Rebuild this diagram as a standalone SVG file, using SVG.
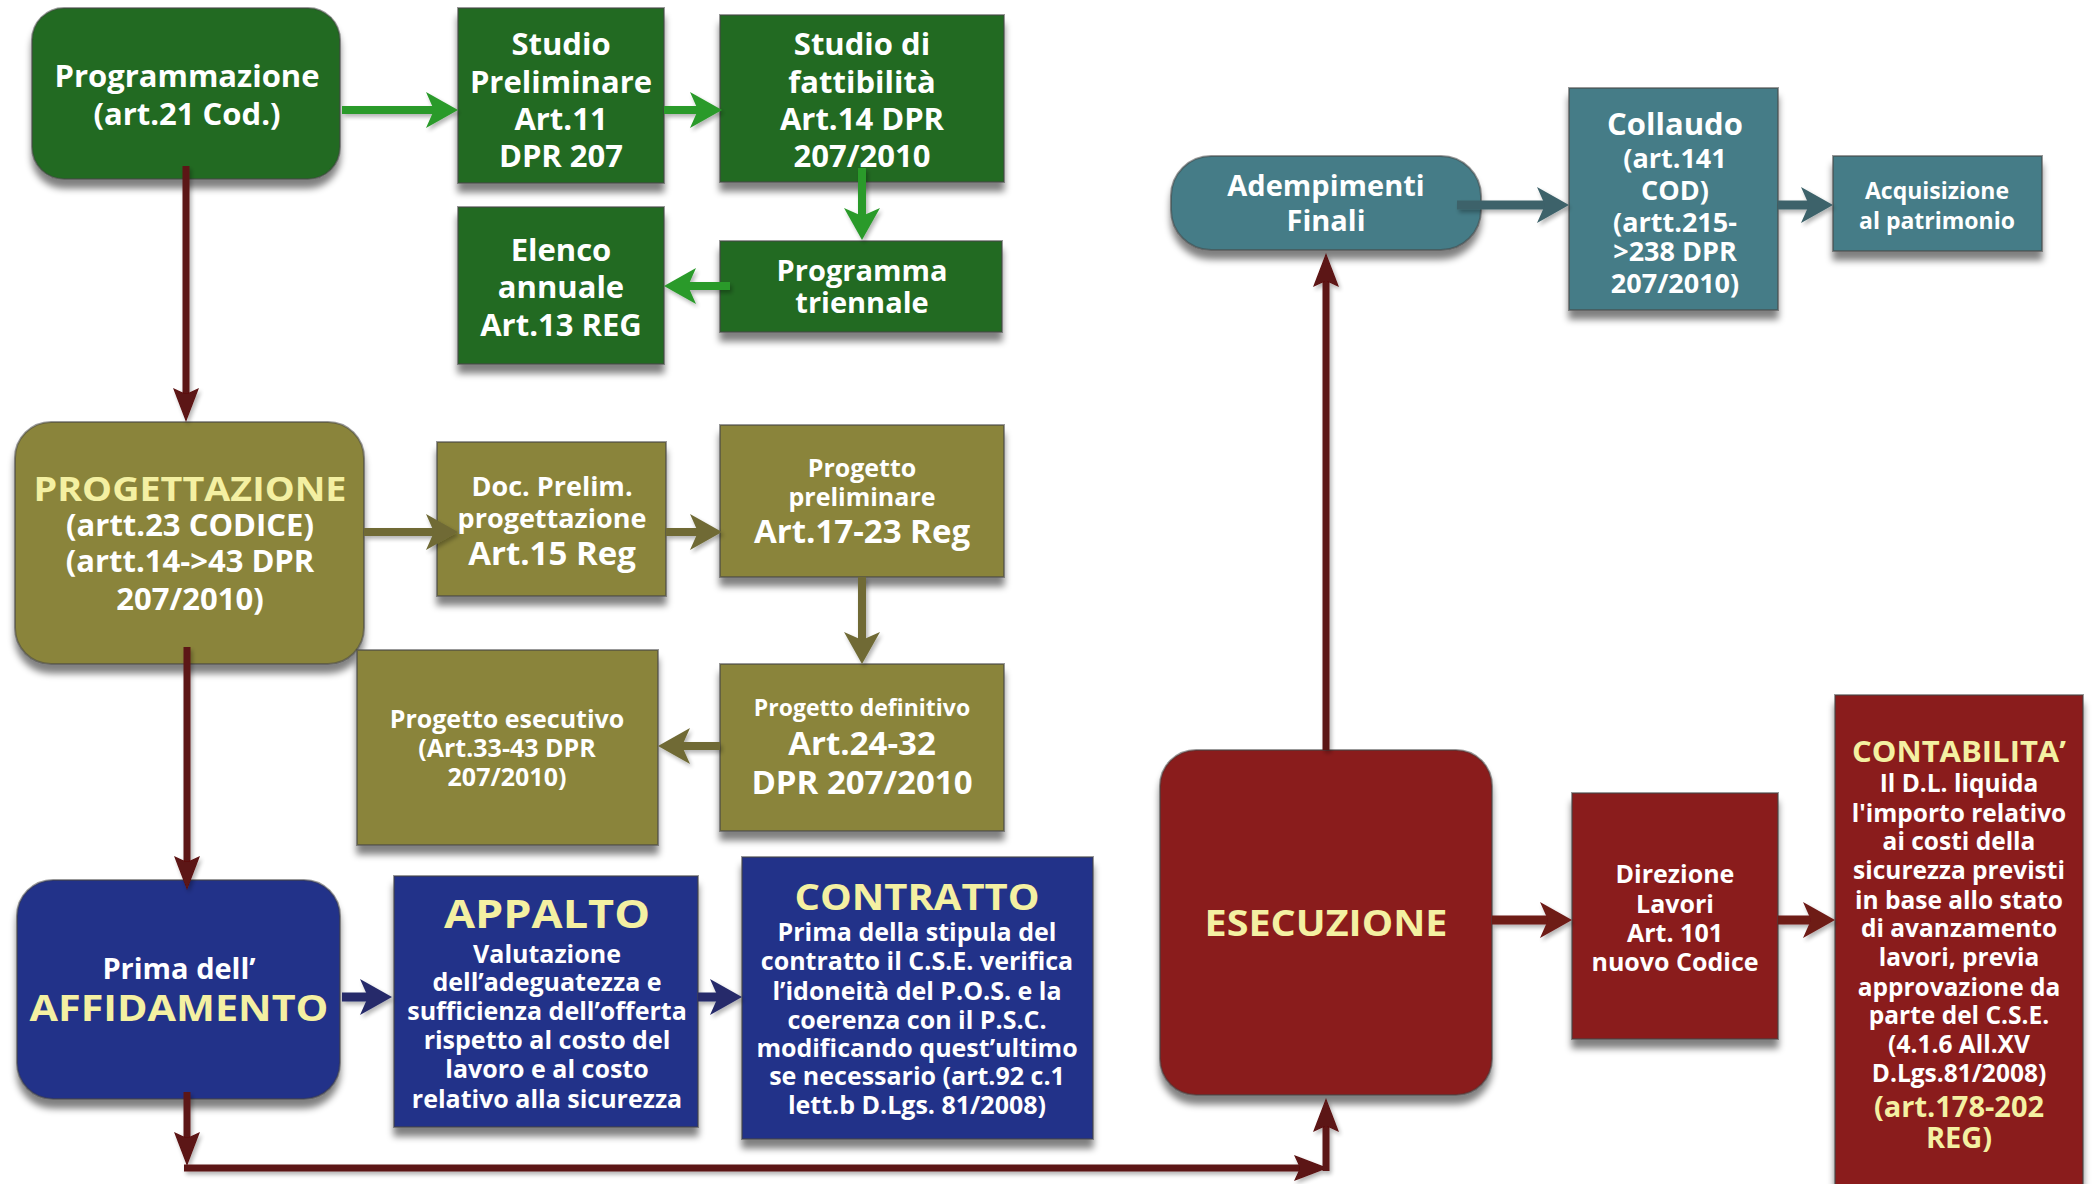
<svg xmlns="http://www.w3.org/2000/svg" width="2096" height="1184" viewBox="0 0 2096 1184">
  <style>
    text { font-family: "Open Sans", "Liberation Sans", sans-serif; font-weight: 700; fill: #ffffff; text-anchor: middle; }
    .hl { fill: #f4f0a2; }
    .box { stroke: rgba(70,70,70,0.55); stroke-width: 2; filter: url(#shadow); }
    .green { fill: #206b20; }
    .olive { fill: #8a843b; }
    .blue { fill: #213089; }
    .red { fill: #8a1b1a; }
    .teal { fill: #447c87; }
    .conn { fill: none; stroke-linecap: butt; }
    .c-green { stroke: #2a9a2a; stroke-width: 8; }
    .c-olive { stroke: #6f6b36; stroke-width: 8; }
    .c-blue { stroke: #272b6a; stroke-width: 9; }
    .c-red { stroke: #6e1a17; stroke-width: 9; }
    .c-teal { stroke: #3d626a; stroke-width: 9; }
    .c-dark { stroke: #5c1212; stroke-width: 7; }
  </style>
  <defs>
    <filter id="shadow" x="-10%" y="-10%" width="120%" height="130%">
      <feGaussianBlur in="SourceAlpha" stdDeviation="3.5"/>
      <feOffset dx="0" dy="9" result="off"/>
      <feComponentTransfer><feFuncA type="linear" slope="0.5"/></feComponentTransfer>
      <feMerge><feMergeNode/><feMergeNode in="SourceGraphic"/></feMerge>
    </filter>
    <filter id="lineShadow" x="-10%" y="-10%" width="120%" height="120%">
      <feGaussianBlur in="SourceAlpha" stdDeviation="2"/>
      <feOffset dx="2" dy="3"/>
      <feComponentTransfer><feFuncA type="linear" slope="0.3"/></feComponentTransfer>
      <feMerge><feMergeNode/><feMergeNode in="SourceGraphic"/></feMerge>
    </filter>
    <marker id="ah-green" markerUnits="userSpaceOnUse" markerWidth="32" markerHeight="36" refX="8" refY="18" orient="auto"><path d="M0,0 L32,18 L0,36 L8,18 z" fill="#2a9a2a"/></marker>
    <marker id="ah-olive" markerUnits="userSpaceOnUse" markerWidth="32" markerHeight="36" refX="8" refY="18" orient="auto"><path d="M0,0 L32,18 L0,36 L8,18 z" fill="#6f6b36"/></marker>
    <marker id="ah-blue" markerUnits="userSpaceOnUse" markerWidth="32" markerHeight="36" refX="8" refY="18" orient="auto"><path d="M0,0 L32,18 L0,36 L8,18 z" fill="#272b6a"/></marker>
    <marker id="ah-red" markerUnits="userSpaceOnUse" markerWidth="32" markerHeight="36" refX="8" refY="18" orient="auto"><path d="M0,0 L32,18 L0,36 L8,18 z" fill="#6e1a17"/></marker>
    <marker id="ah-teal" markerUnits="userSpaceOnUse" markerWidth="32" markerHeight="36" refX="8" refY="18" orient="auto"><path d="M0,0 L32,18 L0,36 L8,18 z" fill="#3d626a"/></marker>
    <marker id="ah-dark" markerUnits="userSpaceOnUse" markerWidth="34" markerHeight="26" refX="6" refY="13" orient="auto"><path d="M0,0 L34,13 L0,26 L6,13 z" fill="#5c1212"/></marker>
  </defs>

  <rect width="2096" height="1184" fill="#ffffff"/>

  <!-- Programmazione phase -->
  <g id="programmazione">
    <rect class="box green" x="32" y="8" width="308" height="171" rx="32"/>
    <text font-size="31" x="187" y="87">Programmazione</text>
    <text font-size="31" x="187" y="125">(art.21 Cod.)</text>
  </g>
  <g id="studio-preliminare">
    <rect class="box green" x="458" y="8" width="206" height="175"/>
    <text font-size="31"><tspan x="561" y="55">Studio</tspan><tspan x="561" y="93">Preliminare</tspan><tspan x="561" y="130">Art.11</tspan><tspan x="561" y="167">DPR 207</tspan></text>
  </g>
  <g id="studio-fattibilita">
    <rect class="box green" x="720" y="15" width="284" height="167"/>
    <text font-size="31"><tspan x="862" y="55">Studio di</tspan><tspan x="862" y="93">fattibilità</tspan><tspan x="862" y="130">Art.14 DPR</tspan><tspan x="862" y="167">207/2010</tspan></text>
  </g>
  <g id="elenco-annuale">
    <rect class="box green" x="458" y="207" width="206" height="157"/>
    <text font-size="31"><tspan x="561" y="261">Elenco</tspan><tspan x="561" y="298">annuale</tspan><tspan x="561" y="336">Art.13 REG</tspan></text>
  </g>
  <g id="programma-triennale">
    <rect class="box green" x="720" y="241" width="282" height="91"/>
    <text font-size="29"><tspan x="862" y="281">Programma</tspan><tspan x="862" y="313">triennale</tspan></text>
  </g>

  <!-- Progettazione phase -->
  <g id="progettazione">
    <rect class="box olive" x="15" y="422" width="349" height="242" rx="36"/>
    <text class="hl" font-size="34" x="190" y="501" textLength="313" lengthAdjust="spacingAndGlyphs">PROGETTAZIONE</text>
    <text font-size="31"><tspan x="190" y="536">(artt.23 CODICE)</tspan><tspan x="190" y="572">(artt.14-&gt;43 DPR</tspan><tspan x="190" y="610">207/2010)</tspan></text>
  </g>
  <g id="doc-prelim">
    <rect class="box olive" x="437" y="442" width="229" height="154"/>
    <text font-size="27"><tspan x="552" y="496">Doc.  Prelim.</tspan><tspan x="552" y="528">progettazione</tspan></text>
    <text font-size="33" x="552" y="565">Art.15 Reg</text>
  </g>
  <g id="progetto-preliminare">
    <rect class="box olive" x="720" y="425" width="284" height="152"/>
    <text font-size="25"><tspan x="862" y="477">Progetto</tspan><tspan x="862" y="506">preliminare</tspan></text>
    <text font-size="33" x="862" y="543">Art.17-23 Reg</text>
  </g>
  <g id="progetto-definitivo">
    <rect class="box olive" x="720" y="664" width="284" height="167"/>
    <text font-size="23" x="862" y="716">Progetto definitivo</text>
    <text font-size="33"><tspan x="862" y="755">Art.24-32</tspan><tspan x="862" y="794">DPR 207/2010</tspan></text>
  </g>
  <g id="progetto-esecutivo">
    <rect class="box olive" x="357" y="650" width="301" height="195"/>
    <text font-size="25"><tspan x="507" y="728">Progetto esecutivo</tspan><tspan x="507" y="757">(Art.33-43 DPR</tspan><tspan x="507" y="786">207/2010)</tspan></text>
  </g>

  <!-- Affidamento phase -->
  <g id="affidamento">
    <rect class="box blue" x="17" y="880" width="323" height="219" rx="36"/>
    <text font-size="29" x="179" y="979">Prima dell’</text>
    <text class="hl" font-size="35" x="179" y="1021" textLength="299" lengthAdjust="spacingAndGlyphs">AFFIDAMENTO</text>
  </g>
  <g id="appalto">
    <rect class="box blue" x="394" y="876" width="304" height="251"/>
    <text class="hl" font-size="40" x="547" y="928" textLength="206" lengthAdjust="spacingAndGlyphs">APPALTO</text>
    <text font-size="25"><tspan x="547" y="963">Valutazione</tspan><tspan x="547" y="991">dell’adeguatezza e</tspan><tspan x="547" y="1020">sufficienza dell’offerta</tspan><tspan x="547" y="1049">rispetto al costo del</tspan><tspan x="547" y="1078">lavoro e al costo</tspan><tspan x="547" y="1108">relativo alla sicurezza</tspan></text>
  </g>
  <g id="contratto">
    <rect class="box blue" x="742" y="857" width="351" height="282"/>
    <text class="hl" font-size="35" x="917" y="910" textLength="245" lengthAdjust="spacingAndGlyphs">CONTRATTO</text>
    <text font-size="25"><tspan x="917" y="941">Prima della stipula del</tspan><tspan x="917" y="970">contratto il C.S.E. verifica</tspan><tspan x="917" y="1000">l’idoneità del P.O.S. e la</tspan><tspan x="917" y="1029">coerenza con il P.S.C.</tspan><tspan x="917" y="1057">modificando quest’ultimo</tspan><tspan x="917" y="1085">se necessario (art.92 c.1</tspan><tspan x="917" y="1114">lett.b D.Lgs. 81/2008)</tspan></text>
  </g>

  <!-- Esecuzione phase -->
  <g id="esecuzione">
    <rect class="box red" x="1160" y="750" width="332" height="345" rx="36"/>
    <text class="hl" font-size="35" x="1326" y="936" textLength="243" lengthAdjust="spacingAndGlyphs">ESECUZIONE</text>
  </g>
  <g id="direzione-lavori">
    <rect class="box red" x="1572" y="793" width="206" height="246"/>
    <text font-size="25"><tspan x="1675" y="883">Direzione</tspan><tspan x="1675" y="913">Lavori</tspan><tspan x="1675" y="942">Art. 101</tspan><tspan x="1675" y="971">nuovo Codice</tspan></text>
  </g>
  <g id="contabilita">
    <rect class="box red" x="1835" y="695" width="248" height="500"/>
    <text class="hl" font-size="28" x="1959" y="762" textLength="214" lengthAdjust="spacingAndGlyphs">CONTABILITA’</text>
    <text font-size="24.5"><tspan x="1959" y="792">Il D.L. liquida</tspan><tspan x="1959" y="822">l'importo relativo</tspan><tspan x="1959" y="850">ai costi della</tspan><tspan x="1959" y="879">sicurezza previsti</tspan><tspan x="1959" y="909">in base allo stato</tspan><tspan x="1959" y="937">di avanzamento</tspan><tspan x="1959" y="966">lavori, previa</tspan><tspan x="1959" y="996">approvazione da</tspan><tspan x="1959" y="1024">parte del C.S.E.</tspan><tspan x="1959" y="1053">(4.1.6 All.XV</tspan><tspan x="1959" y="1082">D.Lgs.81/2008)</tspan></text>
    <text class="hl" font-size="29"><tspan x="1959" y="1117">(art.178-202</tspan><tspan x="1959" y="1148">REG)</tspan></text>
  </g>

  <!-- Final steps -->
  <g id="adempimenti-finali">
    <rect class="box teal" x="1171" y="156" width="310" height="94" rx="40"/>
    <text font-size="29"><tspan x="1326" y="196">Adempimenti</tspan><tspan x="1326" y="231">Finali</tspan></text>
  </g>
  <g id="collaudo">
    <rect class="box teal" x="1569" y="88" width="209" height="222"/>
    <text font-size="31" x="1675" y="135">Collaudo</text>
    <text font-size="27"><tspan x="1675" y="168">(art.141</tspan><tspan x="1675" y="200">COD)</tspan><tspan x="1675" y="232">(artt.215-</tspan><tspan x="1675" y="261">&gt;238 DPR</tspan><tspan x="1675" y="293">207/2010)</tspan></text>
  </g>
  <g id="acquisizione">
    <rect class="box teal" x="1833" y="156" width="209" height="95"/>
    <text font-size="23"><tspan x="1937" y="199">Acquisizione</tspan><tspan x="1937" y="229">al patrimonio</tspan></text>
  </g>

  <!-- Connectors -->
  <g id="connectors" filter="url(#lineShadow)">
    <path class="conn c-green" d="M342,110 H434" marker-end="url(#ah-green)"/>
    <path class="conn c-green" d="M664,110 H698" marker-end="url(#ah-green)"/>
    <path class="conn c-green" d="M862,168 V216" marker-end="url(#ah-green)"/>
    <path class="conn c-green" d="M730,286 H688" marker-end="url(#ah-green)"/>

    <path class="conn c-olive" d="M364,532 H434" marker-end="url(#ah-olive)"/>
    <path class="conn c-olive" d="M666,532 H698" marker-end="url(#ah-olive)"/>
    <path class="conn c-olive" d="M862,577 V640" marker-end="url(#ah-olive)"/>
    <path class="conn c-olive" d="M720,746 H682" marker-end="url(#ah-olive)"/>

    <path class="conn c-blue" d="M342,997 H368" marker-end="url(#ah-blue)"/>
    <path class="conn c-blue" d="M698,997 H718" marker-end="url(#ah-blue)"/>

    <path class="conn c-red" d="M1492,920 H1548" marker-end="url(#ah-red)"/>
    <path class="conn c-red" d="M1778,920 H1811" marker-end="url(#ah-red)"/>

    <path class="conn c-teal" d="M1457,205 H1545" marker-end="url(#ah-teal)"/>
    <path class="conn c-teal" d="M1778,205 H1809" marker-end="url(#ah-teal)"/>

    <path class="conn c-dark" d="M186,166 V394" marker-end="url(#ah-dark)"/>
    <path class="conn c-dark" d="M187,647 V862" marker-end="url(#ah-dark)"/>
    <path class="conn c-dark" d="M187,1092 V1138" marker-end="url(#ah-dark)"/>
    <path class="conn c-dark" d="M184,1168 H1300" marker-end="url(#ah-dark)"/>
    <path class="conn c-dark" d="M1326,1171 V1126" marker-end="url(#ah-dark)"/>
    <path class="conn c-dark" d="M1326,750 V281" marker-end="url(#ah-dark)"/>
  </g>
</svg>
